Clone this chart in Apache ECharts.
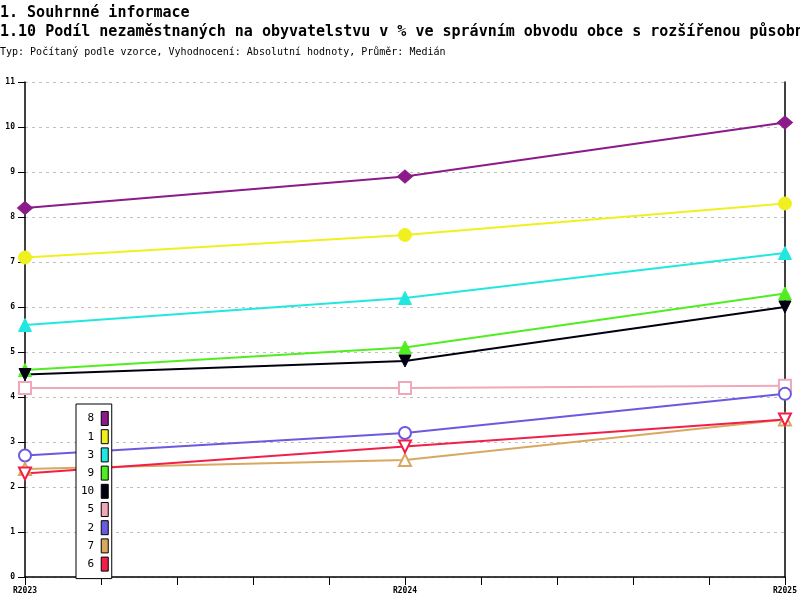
<!DOCTYPE html>
<html>
<head>
<meta charset="utf-8">
<script src="https://cdn.jsdelivr.net/npm/echarts@6/dist/echarts.min.js"></script>
<style>html,body{margin:0;padding:0;background:#fff}#c{width:800px;height:600px}</style>
</head>
<body>
<div id="c"></div>
<script>
const categories = ['R2023', 'R2024', 'R2025'];
const seriesNames = ['8', '1', '3', '9', '10', '5', '2', '7', '6'];
const s8 = [8.2, 8.9, 10.1];
const s1 = [7.1, 7.6, 8.3];
const s3 = [5.6, 6.2, 7.2];
const s9 = [4.6, 5.1, 6.3];
const s10 = [4.5, 4.8, 6.0];
const s5 = [4.2, 4.2, 4.25];
const s2 = [2.7, 3.2, 4.07];
const s7 = [2.4, 2.6, 3.5];
const s6 = [2.3, 2.9, 3.5];
const yTicks = [0, 11, 1];
const titleLine1 = '1. Souhrnné informace';
const titleLine2 = '1.10 Podíl nezaměstnaných na obyvatelstvu v % ve správním obvodu obce s rozšířenou působností';
const subTitle = 'Typ: Počítaný podle vzorce, Vyhodnocení: Absolutní hodnoty, Průměr: Medián';

const values = [s8, s1, s3, s9, s10, s5, s2, s7, s6];
const colors = ['#8b1a8b', '#f0f020', '#20e8e0', '#50ee20', '#000010', '#f0a8b8', '#6a5ae0', '#d8a860', '#f02048'];
const symbols = ['diamond', 'circle', 'triangle', 'triangle', 'triangle', 'emptyRect', 'emptyCircle', 'emptyTriangle', 'emptyTriangle'];
const rotates = [0, 0, 0, 0, 180, 0, 0, 0, 180];
const sizes = [[15, 13], 13, 13, 13, 12, 12, 12, 12, 12];

const mono = 'DejaVu Sans Mono';
const chart = echarts.init(document.getElementById('c'), null, {renderer: 'canvas'});
chart.setOption({
  backgroundColor: '#fff',
  animation: false,
  title: [
    {text: titleLine1, left: 0, top: 6, padding: 0, textStyle: {fontFamily: mono, fontSize: 15, fontWeight: 'bold', color: '#000'}},
    {text: titleLine2, left: 0, top: 25, padding: 0, textStyle: {fontFamily: mono, fontSize: 15, fontWeight: 'bold', color: '#000'}},
    {text: subTitle, left: 0, top: 47, padding: 0, textStyle: {fontFamily: mono, fontSize: 10, fontWeight: 'normal', color: '#000'}}
  ],
  grid: {left: 25, right: 15, top: 82, bottom: 23, containLabel: false},
  legend: {
    orient: 'vertical', left: 76, top: 404, z: 50,
    data: seriesNames,
    icon: 'rect', itemWidth: 7, itemHeight: 14, itemGap: 3.2,
    align: 'right',
    padding: [7, 3, 7, 5],
    borderColor: '#000', borderWidth: 1, backgroundColor: '#fff',
    itemStyle: {borderColor: '#000', borderWidth: 1},
    textStyle: {fontFamily: mono, fontSize: 11, color: '#000', padding: [0, 2, 0, 0]},
    selectedMode: false
  },
  xAxis: {
    type: 'value', min: 0, max: categories.length - 1, interval: 0.2,
    axisLine: {lineStyle: {color: '#000', width: 1.5}},
    axisTick: {show: true, inside: false, length: 8, lineStyle: {color: '#000', width: 1}},
    axisLabel: {
      fontFamily: mono, fontSize: 8, fontWeight: 'bold', color: '#000', margin: 10,
      showMinLabel: true, showMaxLabel: true,
      formatter: function (v) {
        const r = Math.round(v);
        return Math.abs(v - r) < 1e-6 ? categories[r] : '';
      }
    },
    splitLine: {show: false}
  },
  yAxis: [{
    type: 'value', min: yTicks[0], max: yTicks[1], interval: yTicks[2],
    axisLine: {show: true, lineStyle: {color: '#000', width: 1.5}},
    axisTick: {show: true, length: 7, lineStyle: {color: '#000'}},
    axisLabel: {fontFamily: mono, fontSize: 8, fontWeight: 'bold', color: '#000', margin: 10},
    splitLine: {show: true, lineStyle: {color: '#c0c0c0', type: [3, 4], width: 1}}
  }, {
    type: 'value', position: 'right', min: yTicks[0], max: yTicks[1], interval: yTicks[2],
    axisLine: {show: true, lineStyle: {color: '#000', width: 1.5}},
    axisTick: {show: false}, axisLabel: {show: false}, splitLine: {show: false}
  }],
  series: seriesNames.map(function (name, i) {
    return {
      name: name, type: 'line',
      data: values[i].map(function (v, k) { return [k, v]; }),
      symbol: symbols[i], symbolSize: sizes[i], symbolRotate: rotates[i],
      showAllSymbol: true,
      lineStyle: {color: colors[i], width: 2},
      itemStyle: {color: colors[i], borderColor: colors[i], borderWidth: 1},
      z: 2
    };
  })
});
</script>
</body>
</html>
